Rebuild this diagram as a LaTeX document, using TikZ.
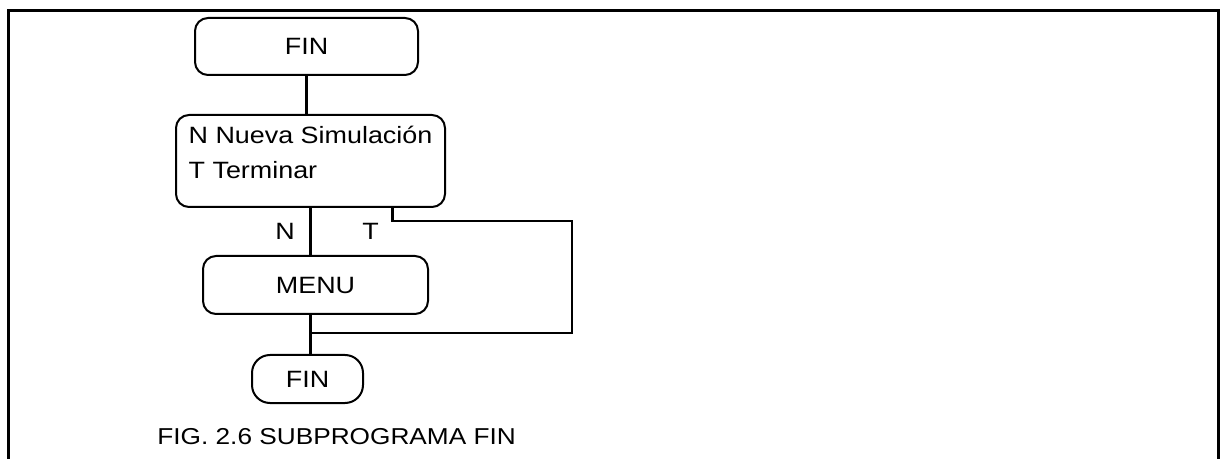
\documentclass[tikz,border=0pt]{standalone}
\usepackage{fontspec}
\setmainfont{Liberation Sans}[FakeStretch=1.14]
\usetikzlibrary{positioning}

\begin{document}
\begin{tikzpicture}[
  x=0.5pt, y=-0.5pt,
  font=\fontsize{11.8}{17.5}\selectfont,
  caja/.style={draw, line width=1pt, rounded corners=6.5pt, inner sep=0pt},
  linea/.style={line width=1.2pt},
  etiq/.style={inner sep=0pt}
]
\useasboundingbox (0,0) rectangle (1225,459);
% marco
\draw[line width=1.5pt] (8,459) -- (8,11) -- (1218,11) -- (1218,459);

\node[caja, minimum width=111.5pt, minimum height=28.5pt] (fin) at (306.5,46.5) {FIN};
\node[caja, below=19pt of fin, xshift=2pt, minimum width=134.5pt, minimum height=46pt,
      align=left] (opc) {N Nueva Simulación\\T Terminar\\[-9pt]\mbox{}};
\node[caja, below=23.5pt of opc, xshift=2.5pt, minimum width=112.5pt, minimum height=29pt] (menu) {MENU};
\node[caja, below=19.5pt of menu, xshift=-4pt, minimum width=55.5pt, minimum height=24pt,
      rounded corners=9pt] (fin2) {FIN};
\coordinate (tsal) at ([xshift=41pt]opc.south);
\coordinate (vuelta) at (572,221);
\coordinate (junta) at (opc.south |- 0,333);

\draw[linea] (fin) -- (fin |- opc.north);
\draw[linea] (opc.south) -- (opc.south |- menu.north)
  node[etiq, midway, left=7.25pt] (n) {N};
\node[etiq] (t) at ([xshift=-11pt]n -| tsal) {T};
\draw[linea] (tsal) |- (vuelta) |- (junta);
\draw[linea] (menu.south -| junta) -- (junta) -- (junta |- fin2.north);

\node[etiq, anchor=west, font=\fontsize{11.5}{14}\selectfont] (titulo) at (157,437) {FIG. 2.6 SUBPROGRAMA FIN};
\end{tikzpicture}
\end{document}
